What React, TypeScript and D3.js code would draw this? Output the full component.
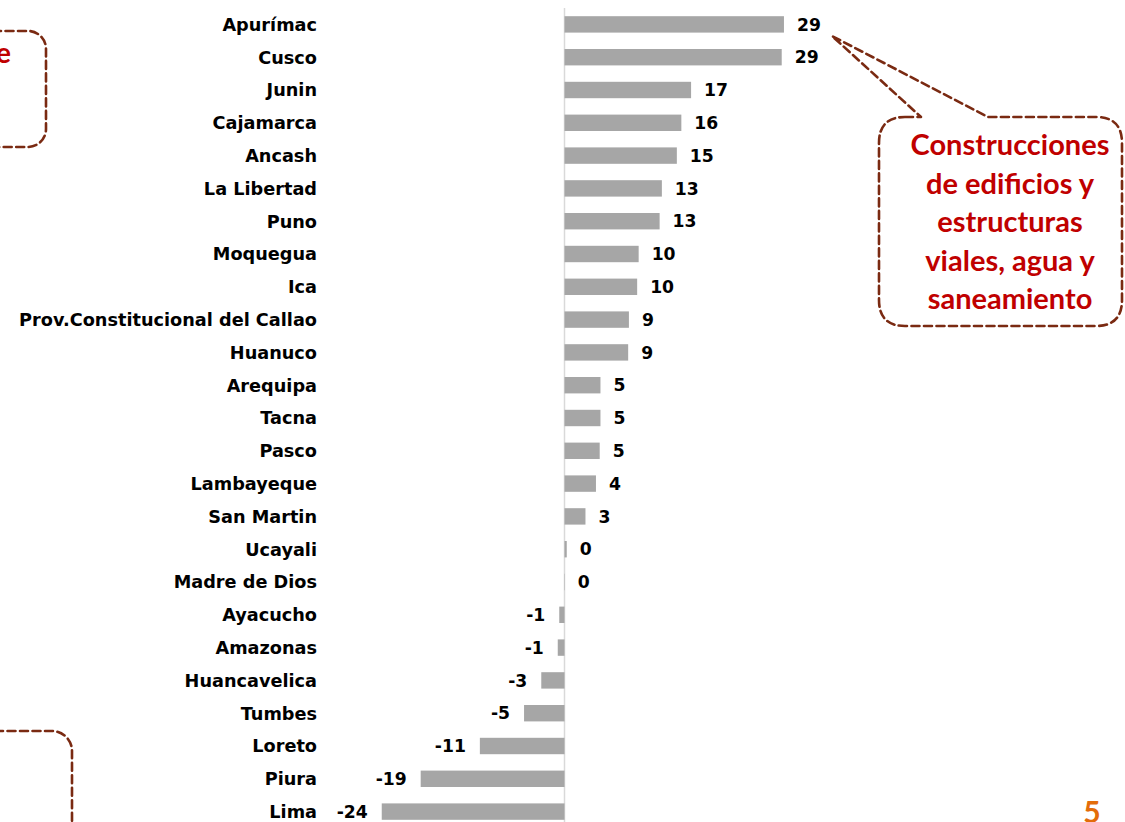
import React from "react";
import * as d3 from "d3";

const categories = [
  "Apurímac", "Cusco", "Junin", "Cajamarca", "Ancash", "La Libertad", "Puno",
  "Moquegua", "Ica", "Prov.Constitucional del Callao", "Huanuco", "Arequipa",
  "Tacna", "Pasco", "Lambayeque", "San Martin", "Ucayali", "Madre de Dios",
  "Ayacucho", "Amazonas", "Huancavelica", "Tumbes", "Loreto", "Piura", "Lima",
];
const values = [
  29.3, 29.0, 16.9, 15.6, 15.0, 13.0, 12.7, 9.9, 9.7, 8.6, 8.5, 4.8, 4.8, 4.7,
  4.2, 2.8, 0.3, 0.05, -0.7, -0.9, -3.1, -5.4, -11.3, -19.2, -24.4,
];
const calloutLines = [
  "Construcciones",
  "de edificios y",
  "estructuras",
  "viales, agua y",
  "saneamiento",
];
const pageNumber = "5";

const W = 1125;
const H = 822;
const DASH = "#7a2a12";
const RED = "#c00000";

export default function App() {
  const x = d3.scaleLinear().domain([-30, 35]).range([339.8, 826.65]);
  const y = d3
    .scaleBand<string>()
    .domain(categories)
    .range([8, 828])
    .paddingInner(0.5)
    .paddingOuter(0.25);
  const x0 = x(0);
  const bw = y.bandwidth();

  // callout shape (rounded rectangle with wedge pointer)
  const bx0 = 879, by0 = 117, bx1 = 1122, by1 = 326, r = 26;
  const calloutPath = [
    `M ${bx0 + r} ${by0}`,
    `L 921 ${by0}`,
    `L 832 36`,
    `L 988 ${by0}`,
    `L ${bx1 - r} ${by0}`,
    `Q ${bx1} ${by0} ${bx1} ${by0 + r}`,
    `L ${bx1} ${by1 - r}`,
    `Q ${bx1} ${by1} ${bx1 - r} ${by1}`,
    `L ${bx0 + r} ${by1}`,
    `Q ${bx0} ${by1} ${bx0} ${by1 - r}`,
    `L ${bx0} ${by0 + r}`,
    `Q ${bx0} ${by0} ${bx0 + r} ${by0}`,
    "Z",
  ].join(" ");

  const labelFont = "'DejaVu Sans', Verdana, sans-serif";

  return (
    <svg
      width={W}
      height={H}
      style={{ position: "absolute", left: 0, top: 0, background: "#fff" }}
    >
      <rect x={0} y={0} width={W} height={H} fill="#fff" />
      {/* zero axis */}
      <line x1={x0} x2={x0} y1={8} y2={H} stroke="#d9d9d9" strokeWidth={1.5} />
      {categories.map((c, i) => {
        const v = values[i];
        const yy = y(c)!;
        const xa = Math.min(x(v), x0);
        const wdt = Math.abs(x(v) - x0);
        const lbl = String(Math.round(v)).replace("-0", "0");
        return (
          <g key={c}>
            <rect x={xa} y={yy} width={wdt} height={bw} fill="#a6a6a6" />
            <text
              x={317}
              y={yy + bw / 2}
              dy="0.36em"
              textAnchor="end"
              fontFamily={labelFont}
              fontWeight="bold"
              fontSize={17.7}
              fill="#000"
            >
              {c}
            </text>
            <text
              x={v >= 0 ? x(v) + 13 : x(v) - 14}
              y={yy + bw / 2}
              dy="0.36em"
              textAnchor={v >= 0 ? "start" : "end"}
              fontFamily={labelFont}
              fontWeight="bold"
              fontSize={17.2}
              fill="#000"
            >
              {lbl}
            </text>
          </g>
        );
      })}

      {/* right callout */}
      <path
        d={calloutPath}
        fill="#fff"
        stroke={DASH}
        strokeWidth={2.6}
        strokeDasharray="8 4.5"
        strokeLinecap="round"
        strokeLinejoin="round"
      />
      {calloutLines.map((t, i) => (
        <text
          key={t}
          x={1010}
          y={155 + i * 38.5}
          textAnchor="middle"
          fontFamily="Lato, 'Open Sans', sans-serif"
          fontWeight="bold"
          fontSize={29}
          fill={RED}
        >
          {t}
        </text>
      ))}

      {/* top-left partial callout */}
      <rect
        x={-200}
        y={31}
        width={246}
        height={116}
        rx={18}
        fill="none"
        stroke={DASH}
        strokeWidth={2.6}
        strokeDasharray="8 4.5"
        strokeLinecap="round"
      />
      <text
        x={11}
        y={63}
        textAnchor="end"
        fontFamily="Lato, 'Open Sans', sans-serif"
        fontWeight="bold"
        fontSize={28}
        fill={RED}
      >
        de
      </text>

      {/* bottom-left partial callout */}
      <rect
        x={-200}
        y={731}
        width={272}
        height={200}
        rx={20}
        fill="none"
        stroke={DASH}
        strokeWidth={2.6}
        strokeDasharray="8 4.5"
        strokeLinecap="round"
      />

      {/* page number */}
      <text
        x={1092}
        y={823}
        textAnchor="middle"
        fontFamily="Lato, 'Open Sans', sans-serif"
        fontWeight="bold"
        fontSize={30}
        fill="#e36c0a"
      >
        {pageNumber}
      </text>
    </svg>
  );
}
